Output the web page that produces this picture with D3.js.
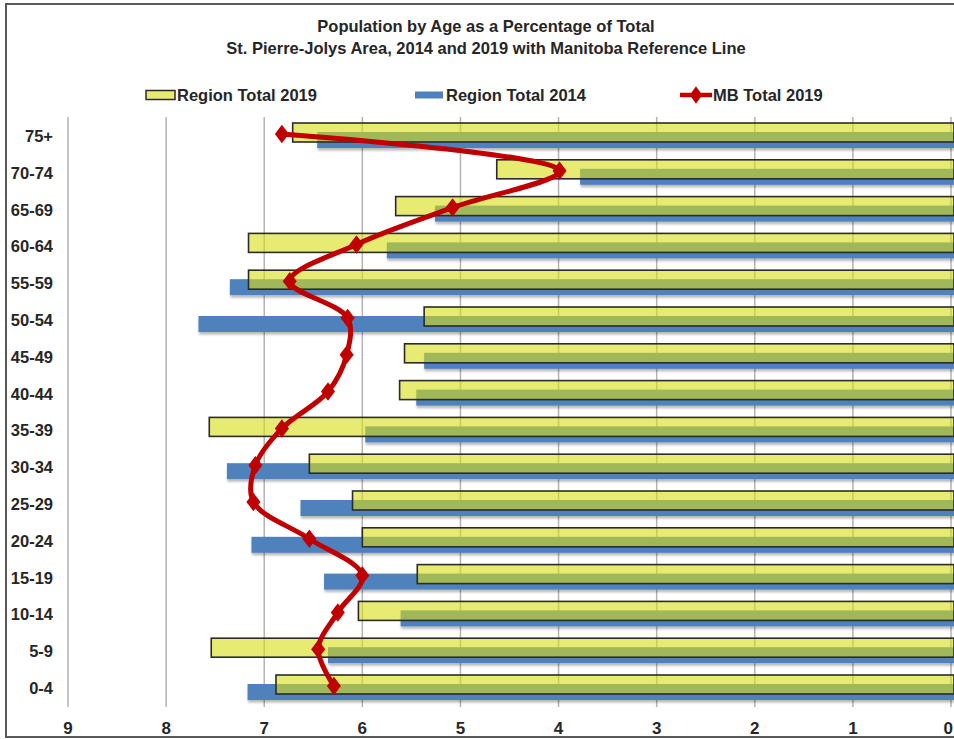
<!DOCTYPE html>
<html>
<head>
<meta charset="utf-8">
<script src="https://cdn.jsdelivr.net/npm/d3@7"></script>
<style>
  html, body { margin: 0; padding: 0; background: #fff; }
  svg { display: block; font-family: "Liberation Sans", Arial, sans-serif; }
</style>
</head>
<body>
<svg id="chart" width="954" height="739"></svg>
<script>
// ---- data ----
const categories = ["75+", "70-74", "65-69", "60-64", "55-59", "50-54", "45-49", "40-44",
                    "35-39", "30-34", "25-29", "20-24", "15-19", "10-14", "5-9", "0-4"];
const region2019 = [6.71, 4.63, 5.66, 7.16, 7.16, 5.37, 5.57, 5.62,
                    7.56, 6.54, 6.10, 6.00, 5.44, 6.04, 7.54, 6.88];
const region2014 = [6.46, 3.78, 5.26, 5.75, 7.35, 7.67, 5.37, 5.45,
                    5.97, 7.38, 6.63, 7.13, 6.39, 5.61, 6.35, 7.17];
const mb2019     = [6.82, 3.99, 5.08, 6.06, 6.74, 6.15, 6.16, 6.35,
                    6.82, 7.09, 7.11, 6.54, 6.00, 6.25, 6.45, 6.29];
const xTicks = [9, 8, 7, 6, 5, 4, 3, 2, 1, 0];
const titleLines = ["Population by Age as a Percentage of Total",
                    "St. Pierre-Jolys Area, 2014 and 2019 with Manitoba Reference Line"];
const seriesNames = ["Region Total 2019", "Region Total 2014", "MB Total 2019"];

// ---- setup ----
const svg = d3.select("#chart");
const plot = { left: 68, right: 951, top: 117, bottom: 707 };

const x = d3.scaleLinear().domain([0, 9]).range([plot.right, plot.left]);
const y = d3.scaleBand().domain(categories).range([116.6, 705.4]).padding(0);
const yc = c => y(c) + y.bandwidth() / 2;

const YELLOW = "rgb(216,222,20)";
const YELLOW_OP = 0.6;
const BLUE = "#4F81BD";
const RED = "#C00000";
const TEXT = "#262626";

const defs = svg.append("defs");
const f = defs.append("filter").attr("id", "shadow").attr("x", "-5%").attr("y", "-50%").attr("width", "110%").attr("height", "200%");
f.append("feDropShadow").attr("dx", 0.5).attr("dy", 2.5).attr("stdDeviation", 1.2)
  .attr("flood-color", "#000").attr("flood-opacity", 0.28);

// border
svg.append("rect").attr("x", 6).attr("y", 4).attr("width", 990).attr("height", 733)
  .attr("fill", "#fff").attr("stroke", "#595959").attr("stroke-width", 2);

// title
svg.append("g").selectAll("text").data(titleLines).join("text")
  .attr("x", 486).attr("y", (d, i) => 32 + i * 22)
  .attr("text-anchor", "middle").attr("font-weight", "bold").attr("font-size", 16.5)
  .attr("fill", TEXT).text(d => d);

// gridlines
svg.append("g").selectAll("line").data(xTicks).join("line")
  .attr("x1", d => x(d)).attr("x2", d => x(d))
  .attr("y1", plot.top).attr("y2", plot.bottom)
  .attr("stroke", "#b3b3b3").attr("stroke-width", 1.5);

// blue bars (2014)
svg.append("g").attr("filter", "url(#shadow)").selectAll("rect").data(categories).join("rect")
  .attr("x", (d, i) => x(region2014[i]))
  .attr("width", (d, i) => x(0) - x(region2014[i]) + 3)
  .attr("y", d => yc(d) - 3)
  .attr("height", 16)
  .attr("fill", BLUE);

// yellow bars (2019)
svg.append("g").selectAll("rect").data(categories).join("rect")
  .attr("x", (d, i) => x(region2019[i]))
  .attr("width", (d, i) => x(0) - x(region2019[i]) + 3)
  .attr("y", d => yc(d) - 12)
  .attr("height", 19)
  .attr("fill", YELLOW).attr("fill-opacity", YELLOW_OP)
  .attr("stroke", "#2b2b2b").attr("stroke-width", 1.6);

// MB line
const pts = categories.map((c, i) => [x(mb2019[i]), yc(c) - 1]);
svg.append("path").datum(pts)
  .attr("d", d3.line().curve(d3.curveCatmullRom.alpha(0.5)))
  .attr("fill", "none").attr("stroke", RED).attr("stroke-width", 5)
  .attr("stroke-linejoin", "round");
const diamond = d3.symbol().type(d3.symbolDiamond).size(110);
svg.append("g").selectAll("path").data(pts).join("path")
  .attr("transform", d => `translate(${d[0]},${d[1]}) scale(1.25,0.95)`)
  .attr("d", diamond).attr("fill", RED);

// y labels
svg.append("g").selectAll("text").data(categories).join("text")
  .attr("x", 53).attr("y", d => yc(d) + 1).attr("dy", "0.36em")
  .attr("text-anchor", "end").attr("font-weight", "bold").attr("font-size", 16.5)
  .attr("fill", TEXT).text(d => d);

// x axis labels
svg.append("g").selectAll("text").data(xTicks).join("text")
  .attr("x", d => d === 0 ? 953 : x(d)).attr("y", 734)
  .attr("text-anchor", d => d === 0 ? "end" : "middle")
  .attr("font-weight", "bold").attr("font-size", 17)
  .attr("fill", TEXT).text(d => d);

// legend
const lg = svg.append("g");
const ly = 95;
lg.append("rect").attr("x", 146).attr("y", ly - 4.5).attr("width", 29).attr("height", 9)
  .attr("fill", YELLOW).attr("fill-opacity", YELLOW_OP).attr("stroke", "#2b2b2b").attr("stroke-width", 1.5);
lg.append("rect").attr("x", 415).attr("y", ly - 3.5).attr("width", 28).attr("height", 7)
  .attr("fill", BLUE);
lg.append("line").attr("x1", 680).attr("x2", 712).attr("y1", ly).attr("y2", ly)
  .attr("stroke", RED).attr("stroke-width", 4.5);
lg.append("path").attr("transform", `translate(696,${ly}) scale(1.1,0.9)`).attr("d", diamond).attr("fill", RED);
const legX = [177, 446, 713];
lg.selectAll("text").data(seriesNames).join("text")
  .attr("x", (d, i) => legX[i]).attr("y", ly).attr("dy", "0.36em")
  .attr("font-weight", "bold").attr("font-size", 16.5)
  .attr("fill", TEXT).text(d => d);
</script>
</body>
</html>
